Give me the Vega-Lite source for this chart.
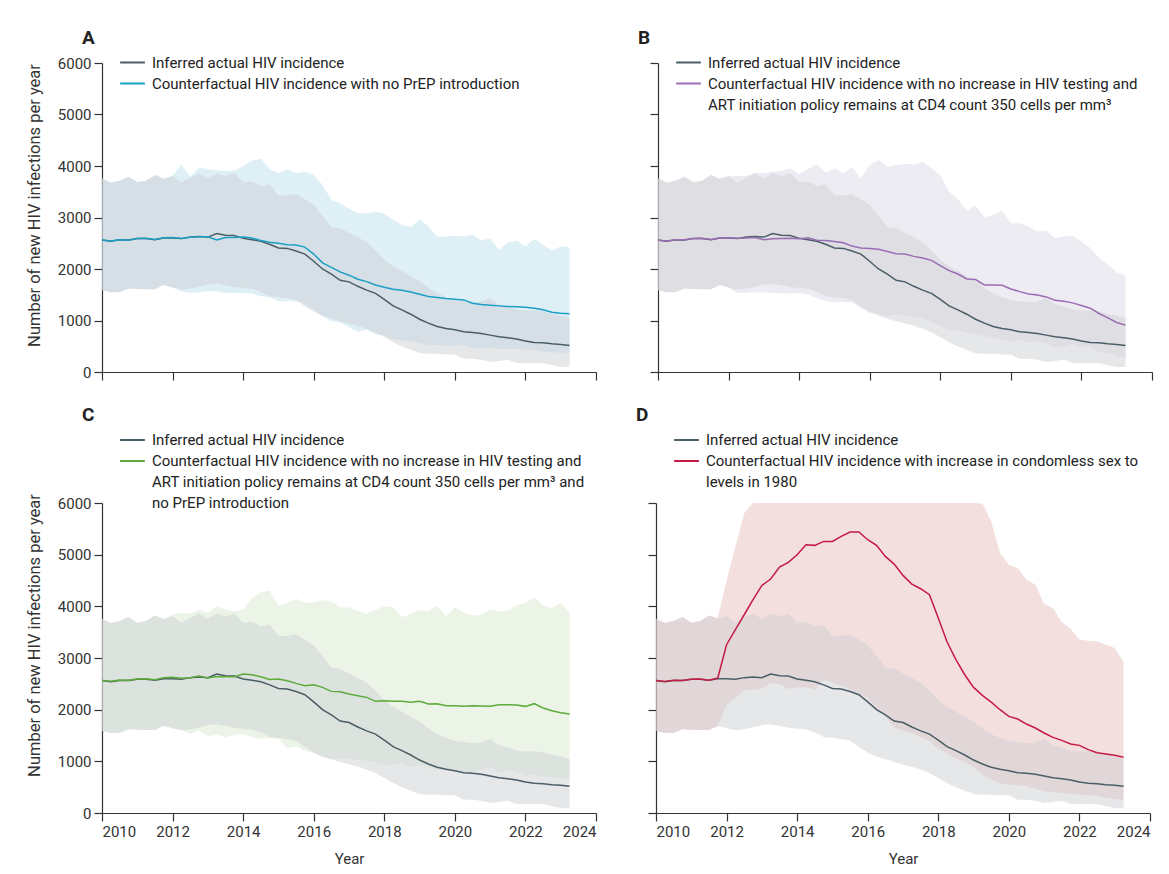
{
"$schema": "https://vega.github.io/schema/vega-lite/v6.json",
"background": "white",
"padding": {"left": 25, "top": 28, "right": 5, "bottom": 5},
"datasets": {
"actual": [
{"t":2010,"y":2565,"lo":1587,"hi":3761},{"t":2010.25,"y":2540,"lo":1548,"hi":3677},{"t":2010.5,"y":2566,"lo":1555,"hi":3716},{"t":2010.75,"y":2565,"lo":1619,"hi":3793},
{"t":2011,"y":2590,"lo":1613,"hi":3684},{"t":2011.25,"y":2590,"lo":1607,"hi":3716},{"t":2011.5,"y":2570,"lo":1607,"hi":3825},{"t":2011.75,"y":2600,"lo":1690,"hi":3754},
{"t":2012,"y":2600,"lo":1640,"hi":3806},{"t":2012.25,"y":2590,"lo":1600,"hi":3677},{"t":2012.5,"y":2620,"lo":1619,"hi":3774},{"t":2012.75,"y":2630,"lo":1658,"hi":3858},
{"t":2013,"y":2620,"lo":1697,"hi":3754},{"t":2013.25,"y":2690,"lo":1716,"hi":3858},{"t":2013.5,"y":2655,"lo":1684,"hi":3806},{"t":2013.75,"y":2650,"lo":1652,"hi":3858},
{"t":2014,"y":2595,"lo":1632,"hi":3684},{"t":2014.25,"y":2570,"lo":1619,"hi":3697},{"t":2014.5,"y":2540,"lo":1560,"hi":3613},{"t":2014.75,"y":2480,"lo":1471,"hi":3645},
{"t":2015,"y":2410,"lo":1458,"hi":3425},{"t":2015.25,"y":2400,"lo":1430,"hi":3425},{"t":2015.5,"y":2350,"lo":1400,"hi":3458},{"t":2015.75,"y":2290,"lo":1277,"hi":3355},
{"t":2016,"y":2150,"lo":1170,"hi":3245},{"t":2016.25,"y":2000,"lo":1090,"hi":3032},{"t":2016.5,"y":1900,"lo":1040,"hi":2813},{"t":2016.75,"y":1780,"lo":987,"hi":2793},
{"t":2017,"y":1750,"lo":940,"hi":2700},{"t":2017.25,"y":1664,"lo":896,"hi":2615},{"t":2017.5,"y":1590,"lo":838,"hi":2520},{"t":2017.75,"y":1528,"lo":774,"hi":2360},
{"t":2018,"y":1412,"lo":677,"hi":2180},{"t":2018.25,"y":1283,"lo":580,"hi":2050},{"t":2018.5,"y":1206,"lo":497,"hi":1962},{"t":2018.75,"y":1122,"lo":432,"hi":1860},
{"t":2019,"y":1025,"lo":368,"hi":1766},{"t":2019.25,"y":948,"lo":355,"hi":1634},{"t":2019.5,"y":884,"lo":355,"hi":1528},{"t":2019.75,"y":845,"lo":342,"hi":1450},
{"t":2020,"y":819,"lo":342,"hi":1392},{"t":2020.25,"y":780,"lo":258,"hi":1375},{"t":2020.5,"y":768,"lo":258,"hi":1350},{"t":2020.75,"y":748,"lo":238,"hi":1365},
{"t":2021,"y":716,"lo":193,"hi":1430},{"t":2021.25,"y":684,"lo":213,"hi":1310},{"t":2021.5,"y":665,"lo":238,"hi":1270},{"t":2021.75,"y":639,"lo":174,"hi":1210},
{"t":2022,"y":600,"lo":174,"hi":1192},{"t":2022.25,"y":574,"lo":174,"hi":1192},{"t":2022.5,"y":568,"lo":174,"hi":1182},{"t":2022.75,"y":548,"lo":129,"hi":1128},
{"t":2023,"y":535,"lo":97,"hi":1092},{"t":2023.25,"y":516,"lo":97,"hi":1046}
],
"cfA": [
{"t":2010,"y":2565,"lo":1587,"hi":3761},{"t":2010.25,"y":2545,"lo":1548,"hi":3677},{"t":2010.5,"y":2570,"lo":1555,"hi":3716},{"t":2010.75,"y":2560,"lo":1619,"hi":3793},
{"t":2011,"y":2590,"lo":1613,"hi":3684},{"t":2011.25,"y":2595,"lo":1607,"hi":3716},{"t":2011.5,"y":2575,"lo":1607,"hi":3825},{"t":2011.75,"y":2605,"lo":1690,"hi":3754},
{"t":2012,"y":2610,"lo":1640,"hi":3806},{"t":2012.25,"y":2590,"lo":1568,"hi":4031},{"t":2012.5,"y":2615,"lo":1535,"hi":3790},{"t":2012.75,"y":2625,"lo":1548,"hi":3968},
{"t":2013,"y":2625,"lo":1568,"hi":3935},{"t":2013.25,"y":2566,"lo":1568,"hi":3922},{"t":2013.5,"y":2612,"lo":1535,"hi":3903},{"t":2013.75,"y":2612,"lo":1535,"hi":3910},
{"t":2014,"y":2620,"lo":1535,"hi":4000},{"t":2014.25,"y":2600,"lo":1522,"hi":4103},{"t":2014.5,"y":2555,"lo":1471,"hi":4148},{"t":2014.75,"y":2520,"lo":1458,"hi":3935},
{"t":2015,"y":2500,"lo":1374,"hi":3858},{"t":2015.25,"y":2470,"lo":1374,"hi":3935},{"t":2015.5,"y":2465,"lo":1368,"hi":3858},{"t":2015.75,"y":2425,"lo":1323,"hi":3890},
{"t":2016,"y":2290,"lo":1213,"hi":3825},{"t":2016.25,"y":2120,"lo":1084,"hi":3632},{"t":2016.5,"y":2030,"lo":987,"hi":3342},{"t":2016.75,"y":1945,"lo":968,"hi":3277},
{"t":2017,"y":1880,"lo":870,"hi":3170},{"t":2017.25,"y":1800,"lo":780,"hi":3084},{"t":2017.5,"y":1755,"lo":819,"hi":3071},{"t":2017.75,"y":1690,"lo":735,"hi":3116},
{"t":2018,"y":1645,"lo":703,"hi":3071},{"t":2018.25,"y":1607,"lo":639,"hi":2955},{"t":2018.5,"y":1587,"lo":606,"hi":2858},{"t":2018.75,"y":1555,"lo":600,"hi":2813},
{"t":2019,"y":1510,"lo":574,"hi":2968},{"t":2019.25,"y":1465,"lo":522,"hi":2826},{"t":2019.5,"y":1445,"lo":522,"hi":2620},{"t":2019.75,"y":1426,"lo":510,"hi":2632},
{"t":2020,"y":1413,"lo":510,"hi":2645},{"t":2020.25,"y":1400,"lo":522,"hi":2632},{"t":2020.5,"y":1335,"lo":458,"hi":2665},{"t":2020.75,"y":1310,"lo":458,"hi":2555},
{"t":2021,"y":1297,"lo":471,"hi":2594},{"t":2021.25,"y":1284,"lo":445,"hi":2374},{"t":2021.5,"y":1271,"lo":445,"hi":2516},{"t":2021.75,"y":1265,"lo":445,"hi":2549},
{"t":2022,"y":1258,"lo":432,"hi":2439},{"t":2022.25,"y":1239,"lo":432,"hi":2581},{"t":2022.5,"y":1207,"lo":393,"hi":2471},{"t":2022.75,"y":1161,"lo":380,"hi":2361},
{"t":2023,"y":1142,"lo":380,"hi":2439},{"t":2023.25,"y":1129,"lo":368,"hi":2420}
],
"cfB": [
{"t":2010,"y":2560,"lo":1587,"hi":3761},{"t":2010.25,"y":2545,"lo":1548,"hi":3677},{"t":2010.5,"y":2570,"lo":1555,"hi":3716},{"t":2010.75,"y":2570,"lo":1619,"hi":3793},
{"t":2011,"y":2590,"lo":1613,"hi":3684},{"t":2011.25,"y":2595,"lo":1607,"hi":3716},{"t":2011.5,"y":2575,"lo":1607,"hi":3825},{"t":2011.75,"y":2600,"lo":1690,"hi":3754},
{"t":2012,"y":2605,"lo":1640,"hi":3806},{"t":2012.25,"y":2595,"lo":1535,"hi":3806},{"t":2012.5,"y":2600,"lo":1535,"hi":3806},{"t":2012.75,"y":2610,"lo":1548,"hi":3870},
{"t":2013,"y":2570,"lo":1548,"hi":3858},{"t":2013.25,"y":2585,"lo":1535,"hi":3890},{"t":2013.5,"y":2590,"lo":1522,"hi":3910},{"t":2013.75,"y":2595,"lo":1522,"hi":3955},
{"t":2014,"y":2585,"lo":1535,"hi":3838},{"t":2014.25,"y":2605,"lo":1503,"hi":3935},{"t":2014.5,"y":2560,"lo":1439,"hi":4038},{"t":2014.75,"y":2555,"lo":1374,"hi":3871},
{"t":2015,"y":2535,"lo":1355,"hi":3955},{"t":2015.25,"y":2510,"lo":1361,"hi":3858},{"t":2015.5,"y":2445,"lo":1355,"hi":3974},{"t":2015.75,"y":2410,"lo":1245,"hi":3761},
{"t":2016,"y":2400,"lo":1148,"hi":4019},{"t":2016.25,"y":2385,"lo":1135,"hi":4116},{"t":2016.5,"y":2340,"lo":1084,"hi":3987},{"t":2016.75,"y":2295,"lo":1116,"hi":4019},
{"t":2017,"y":2290,"lo":1097,"hi":4038},{"t":2017.25,"y":2245,"lo":1084,"hi":4031},{"t":2017.5,"y":2213,"lo":1052,"hi":4083},{"t":2017.75,"y":2168,"lo":968,"hi":3955},
{"t":2018,"y":2065,"lo":890,"hi":3825},{"t":2018.25,"y":1968,"lo":826,"hi":3503},{"t":2018.5,"y":1903,"lo":813,"hi":3355},{"t":2018.75,"y":1806,"lo":761,"hi":3136},
{"t":2019,"y":1794,"lo":729,"hi":3232},{"t":2019.25,"y":1690,"lo":697,"hi":3006},{"t":2019.5,"y":1690,"lo":664,"hi":3052},{"t":2019.75,"y":1684,"lo":632,"hi":3129},
{"t":2020,"y":1613,"lo":600,"hi":2890},{"t":2020.25,"y":1561,"lo":632,"hi":2890},{"t":2020.5,"y":1516,"lo":568,"hi":2826},{"t":2020.75,"y":1497,"lo":600,"hi":2729},
{"t":2021,"y":1458,"lo":568,"hi":2742},{"t":2021.25,"y":1394,"lo":471,"hi":2600},{"t":2021.5,"y":1374,"lo":503,"hi":2632},{"t":2021.75,"y":1342,"lo":555,"hi":2645},
{"t":2022,"y":1290,"lo":471,"hi":2536},{"t":2022.25,"y":1239,"lo":516,"hi":2407},{"t":2022.5,"y":1136,"lo":374,"hi":2213},{"t":2022.75,"y":1052,"lo":374,"hi":2084},
{"t":2023,"y":962,"lo":310,"hi":1936},{"t":2023.25,"y":910,"lo":277,"hi":1871}
],
"cfC": [
{"t":2010,"y":2567,"lo":1587,"hi":3761},{"t":2010.25,"y":2550,"lo":1548,"hi":3677},{"t":2010.5,"y":2575,"lo":1555,"hi":3716},{"t":2010.75,"y":2570,"lo":1619,"hi":3793},
{"t":2011,"y":2595,"lo":1613,"hi":3684},{"t":2011.25,"y":2600,"lo":1607,"hi":3716},{"t":2011.5,"y":2580,"lo":1607,"hi":3825},{"t":2011.75,"y":2620,"lo":1690,"hi":3754},
{"t":2012,"y":2625,"lo":1640,"hi":3837},{"t":2012.25,"y":2610,"lo":1612,"hi":3870},{"t":2012.5,"y":2620,"lo":1535,"hi":3857},{"t":2012.75,"y":2650,"lo":1600,"hi":3935},
{"t":2013,"y":2612,"lo":1484,"hi":3883},{"t":2013.25,"y":2644,"lo":1516,"hi":4000},{"t":2013.5,"y":2638,"lo":1471,"hi":3935},{"t":2013.75,"y":2638,"lo":1516,"hi":3903},
{"t":2014,"y":2690,"lo":1529,"hi":3935},{"t":2014.25,"y":2677,"lo":1464,"hi":4161},{"t":2014.5,"y":2638,"lo":1438,"hi":4277},{"t":2014.75,"y":2586,"lo":1451,"hi":4303},
{"t":2015,"y":2593,"lo":1438,"hi":4000},{"t":2015.25,"y":2560,"lo":1258,"hi":4064},{"t":2015.5,"y":2509,"lo":1290,"hi":4148},{"t":2015.75,"y":2464,"lo":1206,"hi":4064},
{"t":2016,"y":2483,"lo":1161,"hi":4077},{"t":2016.25,"y":2432,"lo":1096,"hi":4116},{"t":2016.5,"y":2354,"lo":1040,"hi":4096},{"t":2016.75,"y":2348,"lo":1064,"hi":3980},
{"t":2017,"y":2303,"lo":1060,"hi":3980},{"t":2017.25,"y":2270,"lo":1032,"hi":3916},{"t":2017.5,"y":2238,"lo":1013,"hi":3851},{"t":2017.75,"y":2161,"lo":987,"hi":3935},
{"t":2018,"y":2174,"lo":935,"hi":4000},{"t":2018.25,"y":2161,"lo":935,"hi":3980},{"t":2018.5,"y":2161,"lo":967,"hi":3787},{"t":2018.75,"y":2142,"lo":883,"hi":3851},
{"t":2019,"y":2161,"lo":935,"hi":3922},{"t":2019.25,"y":2109,"lo":883,"hi":3903},{"t":2019.5,"y":2116,"lo":838,"hi":4012},{"t":2019.75,"y":2077,"lo":838,"hi":3806},
{"t":2020,"y":2077,"lo":838,"hi":3980},{"t":2020.25,"y":2064,"lo":774,"hi":3883},{"t":2020.5,"y":2077,"lo":806,"hi":3819},{"t":2020.75,"y":2071,"lo":838,"hi":3838},
{"t":2021,"y":2064,"lo":903,"hi":3935},{"t":2021.25,"y":2096,"lo":774,"hi":3903},{"t":2021.5,"y":2096,"lo":838,"hi":3916},{"t":2021.75,"y":2090,"lo":806,"hi":4019},
{"t":2022,"y":2064,"lo":709,"hi":4064},{"t":2022.25,"y":2116,"lo":754,"hi":4174},{"t":2022.5,"y":2032,"lo":709,"hi":4019},{"t":2022.75,"y":1980,"lo":690,"hi":3967},
{"t":2023,"y":1942,"lo":677,"hi":4064},{"t":2023.25,"y":1916,"lo":664,"hi":3889}
],
"cfD": [
{"t":2010,"y":2565,"lo":1587,"hi":3761},{"t":2010.25,"y":2545,"lo":1548,"hi":3677},{"t":2010.5,"y":2570,"lo":1555,"hi":3716},{"t":2010.75,"y":2565,"lo":1619,"hi":3793},
{"t":2011,"y":2590,"lo":1613,"hi":3684},{"t":2011.25,"y":2595,"lo":1607,"hi":3716},{"t":2011.5,"y":2570,"lo":1607,"hi":3825},{"t":2011.75,"y":2612,"lo":1677,"hi":3773},
{"t":2012,"y":3257,"lo":2096,"hi":4500},{"t":2012.25,"y":3547,"lo":2225,"hi":5150},{"t":2012.5,"y":3837,"lo":2374,"hi":5800},{"t":2012.75,"y":4128,"lo":2387,"hi":6000},
{"t":2013,"y":4405,"lo":2406,"hi":6000},{"t":2013.25,"y":4528,"lo":2516,"hi":6000},{"t":2013.5,"y":4760,"lo":2496,"hi":6000},{"t":2013.75,"y":4850,"lo":2400,"hi":6000},
{"t":2014,"y":4999,"lo":2432,"hi":6000},{"t":2014.25,"y":5192,"lo":2432,"hi":6000},{"t":2014.5,"y":5180,"lo":2387,"hi":6000},{"t":2014.75,"y":5257,"lo":2580,"hi":6000},
{"t":2015,"y":5257,"lo":2516,"hi":6000},{"t":2015.25,"y":5354,"lo":2470,"hi":6000},{"t":2015.5,"y":5438,"lo":2387,"hi":6000},{"t":2015.75,"y":5438,"lo":2290,"hi":6000},
{"t":2016,"y":5289,"lo":2225,"hi":6000},{"t":2016.25,"y":5180,"lo":2032,"hi":6000},{"t":2016.5,"y":4967,"lo":1870,"hi":6000},{"t":2016.75,"y":4818,"lo":1645,"hi":6000},
{"t":2017,"y":4599,"lo":1593,"hi":6000},{"t":2017.25,"y":4431,"lo":1548,"hi":6000},{"t":2017.5,"y":4341,"lo":1464,"hi":6000},{"t":2017.75,"y":4225,"lo":1387,"hi":6000},
{"t":2018,"y":3773,"lo":1245,"hi":6000},{"t":2018.25,"y":3309,"lo":1161,"hi":6000},{"t":2018.5,"y":2967,"lo":1051,"hi":6000},{"t":2018.75,"y":2676,"lo":987,"hi":6000},
{"t":2019,"y":2431,"lo":883,"hi":6000},{"t":2019.25,"y":2276,"lo":742,"hi":5990},{"t":2019.5,"y":2147,"lo":645,"hi":5644},{"t":2019.75,"y":1999,"lo":580,"hi":5031},
{"t":2020,"y":1870,"lo":548,"hi":4805},{"t":2020.25,"y":1819,"lo":535,"hi":4741},{"t":2020.5,"y":1722,"lo":516,"hi":4515},{"t":2020.75,"y":1645,"lo":471,"hi":4418},
{"t":2021,"y":1548,"lo":419,"hi":4044},{"t":2021.25,"y":1464,"lo":400,"hi":3967},{"t":2021.5,"y":1406,"lo":387,"hi":3696},{"t":2021.75,"y":1335,"lo":368,"hi":3567},
{"t":2022,"y":1309,"lo":355,"hi":3354},{"t":2022.25,"y":1226,"lo":342,"hi":3335},{"t":2022.5,"y":1168,"lo":335,"hi":3322},{"t":2022.75,"y":1142,"lo":290,"hi":3258},
{"t":2023,"y":1116,"lo":271,"hi":3193},{"t":2023.25,"y":1077,"lo":258,"hi":2922}
]
},
"spacing": 25,
"resolve": {"scale": {"color": "independent"}, "legend": {"color": "independent"}},
"vconcat": [
{
"spacing": 41,
"resolve": {"scale": {"color": "independent"}, "legend": {"color": "independent"}},
"hconcat": [
{
"width": 494, "height": 309,
"title": {"text": "A", "anchor": "start", "frame": "group", "dx": -20, "offset": -8.5, "baseline": "alphabetic"},
"layer": [
{"data": {"name": "cfA"}, "mark": {"type": "area", "color": "#bfdfed", "opacity": 0.5},
 "encoding": {"x": {"field": "t", "type": "quantitative", "scale": {"domain": [2010, 2024], "nice": false}, "axis": {"title": null, "labels": false, "values": [2010,2012,2014,2016,2018,2020,2022,2024]}},
 "y": {"field": "lo", "type": "quantitative", "scale": {"domain": [0, 6000], "nice": false}, "axis": {"title": "Number of new HIV infections per year", "format": "d", "values": [0,1000,2000,3000,4000,5000,6000], "titleX": -68, "titleY": 142, "titleBaseline": "middle"}},
 "y2": {"field": "hi"}}},
{"data": {"name": "actual"}, "mark": {"type": "area", "color": "#cdcfd3", "opacity": 0.5},
 "encoding": {"x": {"field": "t", "type": "quantitative"}, "y": {"field": "lo", "type": "quantitative"}, "y2": {"field": "hi"}}},
{"data": {"name": "actual"}, "mark": {"type": "line", "strokeWidth": 1.5},
 "encoding": {"x": {"field": "t", "type": "quantitative"}, "y": {"field": "y", "type": "quantitative"},
 "color": {"datum": "Inferred actual HIV incidence", "type": "nominal",
  "scale": {"domain": ["Inferred actual HIV incidence", "Counterfactual HIV incidence with no PrEP introduction"], "range": ["#4b5d66", "#1a9fc7"]},
  "legend": {"orient": "none", "legendX": 22, "legendY": -9}}}},
{"data": {"name": "cfA"}, "mark": {"type": "line", "strokeWidth": 1.5},
 "encoding": {"x": {"field": "t", "type": "quantitative"}, "y": {"field": "y", "type": "quantitative"},
 "color": {"datum": "Counterfactual HIV incidence with no PrEP introduction", "type": "nominal"}}}
]
},
{
"width": 494, "height": 309,
"title": {"text": "B", "anchor": "start", "frame": "group", "dx": -20, "offset": -8.5, "baseline": "alphabetic"},
"layer": [
{"data": {"name": "cfB"}, "mark": {"type": "area", "color": "#ddd9e7", "opacity": 0.5},
 "encoding": {"x": {"field": "t", "type": "quantitative", "scale": {"domain": [2010, 2024], "nice": false}, "axis": {"title": null, "labels": false, "values": [2010,2012,2014,2016,2018,2020,2022,2024]}},
 "y": {"field": "lo", "type": "quantitative", "scale": {"domain": [0, 6000], "nice": false}, "axis": {"title": null, "labels": false, "values": [0,1000,2000,3000,4000,5000,6000]}},
 "y2": {"field": "hi"}}},
{"data": {"name": "actual"}, "mark": {"type": "area", "color": "#cdcfd3", "opacity": 0.5},
 "encoding": {"x": {"field": "t", "type": "quantitative"}, "y": {"field": "lo", "type": "quantitative"}, "y2": {"field": "hi"}}},
{"data": {"name": "actual"}, "mark": {"type": "line", "strokeWidth": 1.5},
 "encoding": {"x": {"field": "t", "type": "quantitative"}, "y": {"field": "y", "type": "quantitative"},
 "color": {"datum": "Inferred actual HIV incidence", "type": "nominal",
  "scale": {"domain": ["Inferred actual HIV incidence", "Counterfactual HIV incidence with no increase in HIV testing and", "ART initiation policy remains at CD4 count 350 cells per mm³"], "range": ["#4b5d66", "#9a6db4", "transparent"]},
  "legend": {"orient": "none", "legendX": 22, "legendY": -9}}}},
{"data": {"name": "cfB"}, "mark": {"type": "line", "strokeWidth": 1.5},
 "encoding": {"x": {"field": "t", "type": "quantitative"}, "y": {"field": "y", "type": "quantitative"},
 "color": {"datum": "Counterfactual HIV incidence with no increase in HIV testing and", "type": "nominal"}}}
]
}
]
},
{
"spacing": 39,
"resolve": {"scale": {"color": "independent"}, "legend": {"color": "independent"}},
"hconcat": [
{
"width": 494, "height": 310,
"title": {"text": "C", "anchor": "start", "frame": "group", "dx": -20, "offset": -8.5, "baseline": "alphabetic"},
"layer": [
{"data": {"name": "cfC"}, "mark": {"type": "area", "color": "#d7e9cd", "opacity": 0.5},
 "encoding": {"x": {"field": "t", "type": "quantitative", "scale": {"domain": [2010, 2024], "nice": false}, "axis": {"title": "Year", "format": "d", "titlePadding": 12, "values": [2010,2012,2014,2016,2018,2020,2022,2024]}},
 "y": {"field": "lo", "type": "quantitative", "scale": {"domain": [0, 6000], "nice": false}, "axis": {"title": "Number of new HIV infections per year", "format": "d", "values": [0,1000,2000,3000,4000,5000,6000], "titleX": -68, "titleY": 132, "titleBaseline": "middle"}},
 "y2": {"field": "hi"}}},
{"data": {"name": "actual"}, "mark": {"type": "area", "color": "#cdcfd3", "opacity": 0.5},
 "encoding": {"x": {"field": "t", "type": "quantitative"}, "y": {"field": "lo", "type": "quantitative"}, "y2": {"field": "hi"}}},
{"data": {"name": "actual"}, "mark": {"type": "line", "strokeWidth": 1.5},
 "encoding": {"x": {"field": "t", "type": "quantitative"}, "y": {"field": "y", "type": "quantitative"},
 "color": {"datum": "Inferred actual HIV incidence", "type": "nominal",
  "scale": {"domain": ["Inferred actual HIV incidence", "Counterfactual HIV incidence with no increase in HIV testing and", "ART initiation policy remains at CD4 count 350 cells per mm³ and", "no PrEP introduction"], "range": ["#4b5d66", "#5cab3a", "transparent", "transparent"]},
  "legend": {"orient": "none", "legendX": 22, "legendY": -71.5}}}},
{"data": {"name": "cfC"}, "mark": {"type": "line", "strokeWidth": 1.5},
 "encoding": {"x": {"field": "t", "type": "quantitative"}, "y": {"field": "y", "type": "quantitative"},
 "color": {"datum": "Counterfactual HIV incidence with no increase in HIV testing and", "type": "nominal"}}}
]
},
{
"width": 494, "height": 310,
"title": {"text": "D", "anchor": "start", "frame": "group", "dx": -20, "offset": -8.5, "baseline": "alphabetic"},
"layer": [
{"data": {"name": "cfD"}, "mark": {"type": "area", "color": "#e9bfbf", "opacity": 0.5},
 "encoding": {"x": {"field": "t", "type": "quantitative", "scale": {"domain": [2010, 2024], "nice": false}, "axis": {"title": "Year", "format": "d", "titlePadding": 12, "values": [2010,2012,2014,2016,2018,2020,2022,2024]}},
 "y": {"field": "lo", "type": "quantitative", "scale": {"domain": [0, 6000], "nice": false}, "axis": {"title": null, "labels": false, "values": [0,1000,2000,3000,4000,5000,6000]}},
 "y2": {"field": "hi"}}},
{"data": {"name": "actual"}, "mark": {"type": "area", "color": "#cdcfd3", "opacity": 0.5},
 "encoding": {"x": {"field": "t", "type": "quantitative"}, "y": {"field": "lo", "type": "quantitative"}, "y2": {"field": "hi"}}},
{"data": {"name": "actual"}, "mark": {"type": "line", "strokeWidth": 1.5},
 "encoding": {"x": {"field": "t", "type": "quantitative"}, "y": {"field": "y", "type": "quantitative"},
 "color": {"datum": "Inferred actual HIV incidence", "type": "nominal",
  "scale": {"domain": ["Inferred actual HIV incidence", "Counterfactual HIV incidence with increase in condomless sex to", "levels in 1980"], "range": ["#4b5d66", "#c41a44", "transparent"]},
  "legend": {"orient": "none", "legendX": 22, "legendY": -71.5}}}},
{"data": {"name": "cfD"}, "mark": {"type": "line", "strokeWidth": 1.5},
 "encoding": {"x": {"field": "t", "type": "quantitative"}, "y": {"field": "y", "type": "quantitative"},
 "color": {"datum": "Counterfactual HIV incidence with increase in condomless sex to", "type": "nominal"}}}
]
}
]
}
],
"config": {
"view": {"stroke": null},
"font": "Roboto",
"title": {"fontSize": 19, "fontWeight": "bold", "color": "#222", "font": "Roboto"},
"axis": {"grid": false, "domainColor": "#333", "tickColor": "#333", "domainWidth": 1.2, "tickWidth": 1.2, "tickSize": 8, "labelFont": "Roboto", "labelFontSize": 15, "labelColor": "#333", "labelPadding": 3, "titleFont": "Roboto", "titleFontWeight": "normal", "titleColor": "#333"},
"axisY": {"titleFontSize": 16.5},
"axisX": {"titleFontSize": 15},
"legend": {"title": null, "symbolType": "M-1.65,0H1.65", "symbolSize": 225, "symbolStrokeWidth": 2, "labelFont": "Roboto", "labelFontSize": 15, "labelColor": "#222", "labelLimit": 700, "rowPadding": 4, "labelOffset": 11, "padding": 0}
}
}
